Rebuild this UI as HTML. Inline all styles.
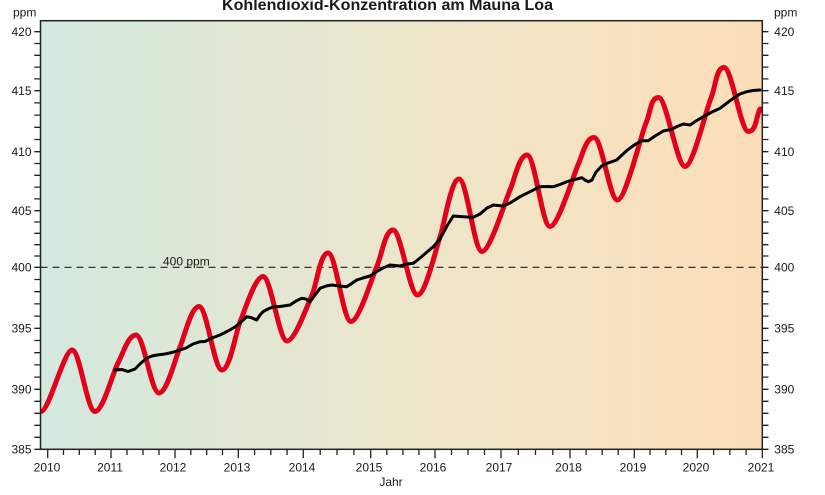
<!DOCTYPE html>
<html>
<head>
<meta charset="utf-8">
<style>
html,body{margin:0;padding:0;background:#fff;}
svg{display:block;}
text{font-family:"Liberation Sans",Arial,sans-serif;fill:#1a1a1a;}
</style>
</head>
<body>
<svg width="825" height="495" viewBox="0 0 825 495" xmlns="http://www.w3.org/2000/svg">
<defs>
<linearGradient id="bg" x1="0" y1="0" x2="1" y2="0">
<stop offset="0" stop-color="#d3e8de"/>
<stop offset="0.25" stop-color="#dfe7d5"/>
<stop offset="0.5" stop-color="#ece6cb"/>
<stop offset="0.75" stop-color="#f5e2c0"/>
<stop offset="1" stop-color="#fbdeb9"/>
</linearGradient>
<clipPath id="clip"><rect x="40.5" y="20.7" width="721.8" height="428.6"/></clipPath>
</defs>

<rect x="40.5" y="20.7" width="721.8" height="428.6" fill="url(#bg)"/>

<!-- title -->
<text x="387.5" y="10" font-size="16" font-weight="bold" text-anchor="middle" textLength="331" lengthAdjust="spacingAndGlyphs">Kohlendioxid-Konzentration am Mauna Loa</text>

<!-- ppm labels -->
<text x="13" y="16.7" font-size="12">ppm</text>
<text x="774" y="16.5" font-size="12">ppm</text>

<!-- 400 ppm dashed line -->
<line x1="40.5" y1="267.3" x2="762.3" y2="267.3" stroke="#222" stroke-width="1.2" stroke-dasharray="7 5"/>
<text x="163" y="265.5" font-size="12">400 ppm</text>

<!-- y ticks -->
<g stroke="#222" stroke-width="1.3">
<path d="M34.3,31.7H40.5M34.3,43.5H40.5M34.3,55.3H40.5M34.3,67.1H40.5M34.3,78.9H40.5M34.3,90.7H40.5M34.3,102.9H40.5M34.3,115.1H40.5M34.3,127.3H40.5M34.3,139.5H40.5M34.3,151.7H40.5M34.3,163.5H40.5M34.3,175.3H40.5M34.3,187.1H40.5M34.3,198.9H40.5M34.3,210.7H40.5M34.3,222H40.5M34.3,233.3H40.5M34.3,244.7H40.5M34.3,256H40.5M34.3,267.3H40.5M34.3,279.5H40.5M34.3,291.7H40.5M34.3,303.9H40.5M34.3,316.1H40.5M34.3,328.3H40.5M34.3,340.5H40.5M34.3,352.7H40.5M34.3,364.9H40.5M34.3,377.1H40.5M34.3,389.3H40.5M34.3,401.3H40.5M34.3,413.3H40.5M34.3,425.3H40.5M34.3,437.3H40.5M34.3,449.3H40.5"/>
<path d="M762.3,31.7H768.5M762.3,43.5H768.5M762.3,55.3H768.5M762.3,67.1H768.5M762.3,78.9H768.5M762.3,90.7H768.5M762.3,102.9H768.5M762.3,115.1H768.5M762.3,127.3H768.5M762.3,139.5H768.5M762.3,151.7H768.5M762.3,163.5H768.5M762.3,175.3H768.5M762.3,187.1H768.5M762.3,198.9H768.5M762.3,210.7H768.5M762.3,222H768.5M762.3,233.3H768.5M762.3,244.7H768.5M762.3,256H768.5M762.3,267.3H768.5M762.3,279.5H768.5M762.3,291.7H768.5M762.3,303.9H768.5M762.3,316.1H768.5M762.3,328.3H768.5M762.3,340.5H768.5M762.3,352.7H768.5M762.3,364.9H768.5M762.3,377.1H768.5M762.3,389.3H768.5M762.3,401.3H768.5M762.3,413.3H768.5M762.3,425.3H768.5M762.3,437.3H768.5M762.3,449.3H768.5"/>
<!-- x ticks major -->
<path d="M47.7,449.3V458.3M111,449.3V458.3M175,449.3V458.3M238.3,449.3V458.3M303.3,449.3V458.3M370.7,449.3V458.3M435,449.3V458.3M501,449.3V458.3M570,449.3V458.3M634.3,449.3V458.3M697.3,449.3V458.3M762.3,449.3V458.3"/>
<!-- x ticks minor -->
<path d="M63.5,449.3V455M79.3,449.3V455M95.2,449.3V455M127,449.3V455M143,449.3V455M159,449.3V455M190.8,449.3V455M206.7,449.3V455M222.5,449.3V455M254.6,449.3V455M270.8,449.3V455M287.1,449.3V455M320.2,449.3V455M337,449.3V455M353.9,449.3V455M386.8,449.3V455M402.9,449.3V455M418.9,449.3V455M451.5,449.3V455M468,449.3V455M484.5,449.3V455M518.3,449.3V455M535.5,449.3V455M552.8,449.3V455M586.1,449.3V455M602.2,449.3V455M618.2,449.3V455M650,449.3V455M665.8,449.3V455M681.5,449.3V455M713.6,449.3V455M729.8,449.3V455M746.1,449.3V455"/>
</g>

<!-- y labels left -->
<g font-size="12" text-anchor="end">
<text x="31.5" y="36">420</text>
<text x="31.5" y="95">415</text>
<text x="31.5" y="156">410</text>
<text x="31.5" y="215">405</text>
<text x="31.5" y="271.6">400</text>
<text x="31.5" y="332.6">395</text>
<text x="31.5" y="393.6">390</text>
<text x="31.5" y="453.6">385</text>
</g>
<!-- y labels right -->
<g font-size="12">
<text x="774.3" y="36">420</text>
<text x="774.3" y="95">415</text>
<text x="774.3" y="156">410</text>
<text x="774.3" y="215">405</text>
<text x="774.3" y="271.6">400</text>
<text x="774.3" y="332.6">395</text>
<text x="774.3" y="393.6">390</text>
<text x="774.3" y="453.6">385</text>
</g>
<!-- x labels -->
<g font-size="12" text-anchor="middle">
<text x="47" y="471.6">2010</text>
<text x="110" y="471.6">2011</text>
<text x="173" y="471.6">2012</text>
<text x="237" y="471.6">2013</text>
<text x="302" y="471.6">2014</text>
<text x="369" y="471.6">2015</text>
<text x="433" y="471.6">2016</text>
<text x="499" y="471.6">2017</text>
<text x="568.5" y="471.6">2018</text>
<text x="633" y="471.6">2019</text>
<text x="696" y="471.6">2020</text>
<text x="761" y="471.6">2021</text>
</g>
<text x="391" y="486" font-size="12" text-anchor="middle">Jahr</text>

<g clip-path="url(#clip)">
<!-- red seasonal curve -->
<path fill="none" stroke="#e2001a" stroke-width="5" stroke-linecap="round" stroke-linejoin="round"
d="M41,411.5 C49,411.5 64,350 72,350 S87,411.5 95,411.5 S113,372 118,363 S128,335 136,335 S151,393 159,393 S176,356 180,347 S191,306.5 199,306.5 S214,370 222,370 S236,331 240,322 S255,276.5 263,276.5 S279,341 287,341 S307.5,304.5 312,295 S320,253 328,253 S343,321.5 351,321.5 S372.5,275.8 377,266 S385,230 393,230 S409.5,295 417.5,295 S436,248 440,237 S451,179 459,179 S474,251.5 482,251.5 S505.5,200 510,190 S519,155 527,155 S542,226.5 550,226.5 S573.5,175 578,165 S586,137.5 594,137.5 S609.5,200 617.5,200 S641.5,133 646,123 S650.5,97.5 658.5,97.5 S677,166.5 685,166.5 S706.5,108 711,98 S716,67.5 724,67.5 S740.5,131.5 748.5,131.5 S756,116 760,109"/>
<!-- black trend -->
<polyline fill="none" stroke="#000" stroke-width="3" stroke-linecap="round" stroke-linejoin="round"
points="115,370 122,369.5 128,371.5 135,369 141,363 147,358 152,356 157,355 165,354 172,352.5 180,350 186,348 193,344 200,341.7 205,341.5 212,338 220,335 228,331 235,327 240,323 246.7,316.7 251,317.5 256.7,320 260,315 263,311.7 268,309 273,307 280,306.5 290,305 296,301 301.7,298.3 306,299 310,301.7 315,295 320,288.3 326,286 331.7,285 340,286 346.7,286.7 351,284 356.7,280 363,278 370,276 376,272 383,268 390,265 395,265.5 400,266 407,264 413.3,263.3 420,258 427,252 433.3,246.7 440,239 447,226 453.3,216 460,216.5 467,217 473.3,217.3 480,214 487,208 493.3,205 498,205.5 503.3,206 510,203 520,196.7 530,191.7 540,186.7 547,186.5 553.3,186.7 560,184.5 566.7,181.7 575,179.5 581.7,177.7 585,180 588.3,181.7 592,180 596,172 601.7,166 608,163 616.7,160 622,155 628.3,149.3 635,144.5 641.7,140.7 648.3,140.7 655,136 663.3,131 671.7,129.3 677,126.5 683.3,124 690,125 696,121 703.3,116.7 711,112.5 720,108.3 727,103 733.3,98.3 740,94 746.7,91.7 753,90.5 760,90"/>
</g>

<!-- frame -->
<rect x="40.5" y="20.7" width="721.8" height="428.6" fill="none" stroke="#222" stroke-width="1.5"/>
</svg>
</body>
</html>
